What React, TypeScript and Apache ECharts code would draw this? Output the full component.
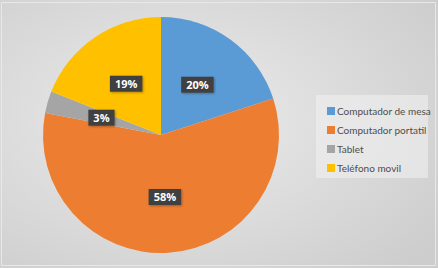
import React, { useEffect, useRef } from "react";
import * as echarts from "echarts";

const categories = ["Computador de mesa", "Computador portatil", "Tablet", "Teléfono movil"];
const values = [20, 58, 3, 19];
const colors = ["#5B9BD5", "#ED7D31", "#A5A5A5", "#FFC000"];

export default function App() {
  const ref = useRef<HTMLDivElement>(null);
  useEffect(() => {
    document.body.style.margin = "0";
    const chart = echarts.init(ref.current!, null, { renderer: "svg" });
    chart.setOption({
      animation: false,
      backgroundColor: {
        type: "radial",
        x: 0.4,
        y: 0.45,
        r: 0.75,
        colorStops: [
          { offset: 0, color: "#ececec" },
          { offset: 1, color: "#cdcdcd" },
        ],
      },
      graphic: [
        {
          type: "rect",
          shape: { x: 1.5, y: 2.5, width: 434, height: 263 },
          style: { fill: "none", stroke: "#e8e8e8", lineWidth: 1 },
        },
        {
          type: "rect",
          shape: { x: 316, y: 95, width: 112, height: 83 },
          style: { fill: "rgba(240,240,240,0.6)" },
          z: 0,
        },
      ],
      legend: {
        orient: "vertical",
        left: 322,
        top: 101,
        itemWidth: 8,
        itemHeight: 8,
        itemGap: 9,
        icon: "rect",
        textStyle: { color: "#4d4d4d", fontSize: 10, fontFamily: "Lato", padding: [0, 0, 0, -3] },
        data: categories,
      },
      series: [
        {
          type: "pie",
          center: [161, 135],
          radius: [0, 118],
          startAngle: 90,
          clockwise: true,
          data: categories.map((c, i) => ({ name: c, value: values[i], itemStyle: { color: colors[i] } })),
          label: {
            show: true,
            position: "inside",
            formatter: (p: any) => `${Math.round(p.percent)}%`,
            color: "#ffffff",
            fontWeight: "bold",
            fontSize: 11,
            fontFamily: "Open Sans",
            backgroundColor: "#404040",
            padding: [3, 5, 2, 5],
            shadowColor: "rgba(0,0,0,0.3)",
            shadowBlur: 2,
            shadowOffsetX: 1,
            shadowOffsetY: 1,
          },
          labelLine: { show: false },
          itemStyle: { borderWidth: 0 },
        },
      ],
    });
    return () => chart.dispose();
  }, []);
  return <div ref={ref} style={{ width: 438, height: 268 }} />;
}
